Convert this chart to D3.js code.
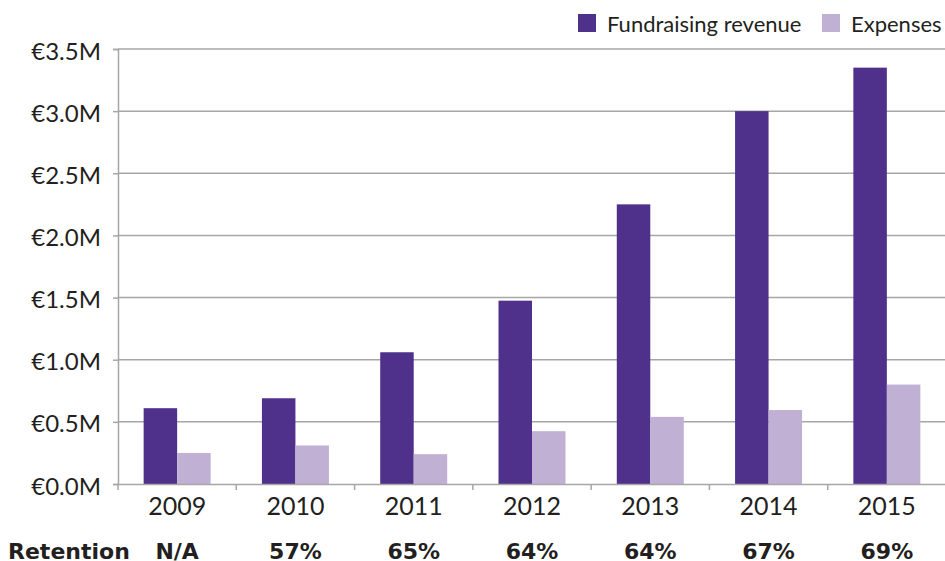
<!DOCTYPE html>
<html>
<head>
<meta charset="utf-8">
<script src="https://cdn.jsdelivr.net/npm/d3@7"></script>
<style>
  body { margin: 0; background: #fff; }
</style>
</head>
<body>
<svg id="chart" width="945" height="561" font-family="Lato, 'Open Sans', sans-serif"></svg>
<script>
// chart data
const years = ['2009', '2010', '2011', '2012', '2013', '2014', '2015'];
const revenue = [0.61, 0.69, 1.06, 1.475, 2.25, 3.0, 3.35];
const expenses = [0.25, 0.31, 0.24, 0.425, 0.54, 0.595, 0.80];
const retention = ['N/A', '57%', '65%', '64%', '64%', '67%', '69%'];
const seriesNames = ['Fundraising revenue', 'Expenses'];
const yTicks = [0, 0.5, 1, 1.5, 2, 2.5, 3, 3.5];

const colors = ['#4f318c', '#bfb0d4'];
const gridColor = '#a6a6a6';
const textColor = '#231f20';

const svg = d3.select('#chart');
const plotLeft = 118, plotRight = 946, plotTop = 49, plotBottom = 484;

let x = d3.scaleBand().domain(years).range([plotLeft, plotRight]);
let inner = d3.scaleBand().domain([0, 1]).range([0, 67]);
let y = d3.scaleLinear().domain([0, 3.5]).range([plotBottom, plotTop]);

// gridlines
svg.append('g')
    .selectAll('line')
    .data(yTicks.slice(1))
    .enter()
    .append('line')
    .attr('x1', plotLeft)
    .attr('x2', plotRight)
    .attr('y1', d => y(d))
    .attr('y2', d => y(d))
    .attr('stroke', gridColor)
    .attr('stroke-width', 1.5);

// y axis
let yAxis = svg.append('g')
    .attr('transform', 'translate(' + plotLeft + ',0)')
    .call(d3.axisLeft(y).tickValues(yTicks).tickSize(5).tickPadding(12)
        .tickFormat(d => '€' + d.toFixed(1) + 'M'));
yAxis.attr('font-family', null).attr('font-size', null);
yAxis.select('.domain').attr('stroke', gridColor).attr('stroke-width', 1.5);
yAxis.selectAll('.tick line').attr('stroke', gridColor).attr('stroke-width', 1.5);
yAxis.selectAll('.tick text')
    .attr('font-size', 24)
    .attr('fill', textColor)
    .attr('dy', '0.42em');

// bars
let groups = svg.append('g')
    .selectAll('g')
    .data(years)
    .enter()
    .append('g')
    .attr('transform', d => 'translate(' + (x(d) + (x.bandwidth() - 67) / 2) + ',0)');

groups.selectAll('rect')
    .data((d, i) => [revenue[i], expenses[i]])
    .enter()
    .append('rect')
    .attr('x', (d, j) => inner(j))
    .attr('width', inner.bandwidth())
    .attr('y', d => y(d))
    .attr('height', d => plotBottom - y(d))
    .attr('fill', (d, j) => colors[j]);

// x axis
let xAxis = svg.append('g')
    .attr('transform', 'translate(0,' + plotBottom + ')')
    .call(d3.axisBottom(x).tickSize(0).tickPadding(13));
xAxis.attr('font-family', null).attr('font-size', null);
xAxis.select('.domain').attr('stroke', gridColor).attr('stroke-width', 1.5);
xAxis.selectAll('.tick text')
    .attr('font-size', 25)
    .attr('fill', textColor);

// tick marks between categories
svg.append('g')
    .selectAll('line')
    .data(years)
    .enter()
    .append('line')
    .attr('x1', d => x(d))
    .attr('x2', d => x(d))
    .attr('y1', plotBottom)
    .attr('y2', plotBottom + 6)
    .attr('stroke', gridColor)
    .attr('stroke-width', 1.5);

// retention row (cut at the bottom edge in the original too)
let retRow = svg.append('g')
    .attr('font-family', '"DejaVu Sans", sans-serif')
    .attr('font-weight', 'bold')
    .attr('font-size', 22)
    .attr('fill', textColor);
retRow.append('text')
    .attr('x', 8)
    .attr('y', 559)
    .text('Retention');
retRow.selectAll('text.ret')
    .data(retention)
    .enter()
    .append('text')
    .attr('class', 'ret')
    .attr('x', (d, i) => x(years[i]) + x.bandwidth() / 2)
    .attr('y', 559)
    .attr('text-anchor', 'middle')
    .text(d => d);

// legend
let legendX = [578, 822];
let legend = svg.append('g')
    .selectAll('g')
    .data(seriesNames)
    .enter()
    .append('g')
    .attr('transform', (d, i) => 'translate(' + legendX[i] + ',14)');
legend.append('rect')
    .attr('width', 18)
    .attr('height', 18)
    .attr('fill', (d, i) => colors[i]);
legend.append('text')
    .attr('x', 29)
    .attr('y', 18)
    .attr('font-size', 22)
    .attr('fill', textColor)
    .text(d => d);
</script>
</body>
</html>
